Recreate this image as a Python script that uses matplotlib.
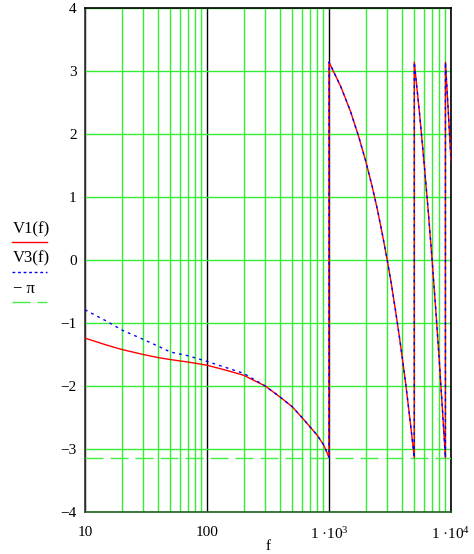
import numpy as np
import matplotlib
matplotlib.use("Agg")
import matplotlib.pyplot as plt
from matplotlib.ticker import LogLocator, NullFormatter, FixedLocator, FixedFormatter
from matplotlib.lines import Line2D

plt.rcParams['font.family'] = ['Liberation Serif', 'DejaVu Serif']
plt.rcParams['mathtext.fontset'] = 'custom'
plt.rcParams['mathtext.rm'] = 'Liberation Serif'
plt.rcParams['mathtext.it'] = 'Liberation Serif:italic'

# frequency samples (Hz)
f = [10, 15, 20, 30, 40, 50, 70, 100, 150, 200, 300, 400, 500, 600, 700, 800, 900, 950, 999, 1000, 1001,
     1250, 1500, 1750, 2000, 2250, 2500, 2750, 3000, 3250, 3500, 3750, 4000, 4250, 4500, 4750, 4999, 5001,
     5500, 6000, 6500, 7000, 7500, 8000, 8500, 8999, 9001, 9500, 10000]
# phase V1(f)
V1 = [-1.24, -1.35, -1.42, -1.50, -1.55, -1.58, -1.62, -1.67, -1.76, -1.83, -2.00, -2.18, -2.33, -2.50, -2.65, -2.78, -2.93, -3.03, -3.13, 0.0, 3.14,
      2.75, 2.36, 1.96, 1.57, 1.18, 0.79, 0.39, 0.00, -0.39, -0.79, -1.18, -1.57, -1.96, -2.36, -2.75, -3.14, 3.14,
      2.36, 1.57, 0.79, 0.00, -0.79, -1.57, -2.36, -3.14, 3.14, 2.36, 1.57]
# phase V3(f)
V3 = [-0.79, -0.97, -1.11, -1.26, -1.37, -1.46, -1.52, -1.61, -1.72, -1.80, -2.00, -2.18, -2.33, -2.50, -2.65, -2.78, -2.93, -3.03, -3.13, 0.0, 3.14,
      2.75, 2.36, 1.96, 1.57, 1.18, 0.79, 0.39, 0.00, -0.39, -0.79, -1.18, -1.57, -1.96, -2.36, -2.75, -3.14, 3.14,
      2.36, 1.57, 0.79, 0.00, -0.79, -1.57, -2.36, -3.14, 3.14, 2.36, 1.57]
neg_pi = -np.pi

x_ticks = [10, 100, 1000, 10000]
x_labels = ['10', '100', '1 ·10$^{3}$', '1 ·10$^{4}$']
y_ticks = [-4, -3, -2, -1, 0, 1, 2, 3, 4]

W, H = 474, 554
fig = plt.figure(figsize=(W / 100, H / 100), dpi=100)
ax = fig.add_axes([85 / W, 1 - 512 / H, (451 - 85) / W, (512 - 8) / H])

green = '#33ee33'
ax.set_xscale('log')
ax.set_xlim(10, 10000)
ax.set_ylim(-4, 4)

ax.xaxis.set_major_locator(FixedLocator(x_ticks))
ax.xaxis.set_major_formatter(FixedFormatter(x_labels))
ax.xaxis.set_minor_locator(LogLocator(base=10, subs=range(2, 10)))
ax.xaxis.set_minor_formatter(NullFormatter())
ax.set_yticks(y_ticks)
ax.set_yticklabels([('\u2212' + str(abs(v))) if v < 0 else str(v) for v in y_ticks])

ax.grid(which='minor', axis='x', color=green, lw=1.0)
ax.grid(which='major', axis='x', color='black', lw=1.0)
ax.grid(which='major', axis='y', color=green, lw=1.0)
ax.tick_params(which='both', length=0, labelsize=11)
ax.tick_params(axis='x', pad=10)
ax.tick_params(axis='y', pad=6)

for s in ['top', 'right']:
    ax.spines[s].set_color('black')
ax.spines['left'].set_color('#333333')
ax.spines['bottom'].set_color('#206020')
for s in ax.spines.values():
    s.set_linewidth(1.2)

ax.axhline(neg_pi, color='#44ee44', lw=1.0, dashes=(13, 5), zorder=3)
ax.plot(f, V1, color='#ff0000', lw=1.0, zorder=4)
ax.plot(f, V3, color='#0000ff', lw=1.0, dashes=(2, 3), zorder=5)

ax.set_xlabel('f', fontsize=11, labelpad=-1)

def fx(x):
    return x / W

def fy(y):
    return 1 - y / H

fig.text(fx(13), fy(229), 'V1(f)', fontsize=12, va='center', ha='left')
fig.add_artist(Line2D([fx(12), fx(47)], [fy(242), fy(242)], color='#ff0000', lw=1.0))
fig.text(fx(13), fy(258), 'V3(f)', fontsize=12, va='center', ha='left')
fig.add_artist(Line2D([fx(12), fx(47)], [fy(272), fy(272)], color='#0000ff', lw=1.0, dashes=(2, 2)))
fig.text(fx(13), fy(289), '\u2212 \u03c0', fontsize=12, va='center', ha='left')
fig.add_artist(Line2D([fx(12), fx(47)], [fy(302), fy(302)], color='#44ee44', lw=1.0, dashes=(13, 5)))

fig.savefig('out.png', dpi=100)
